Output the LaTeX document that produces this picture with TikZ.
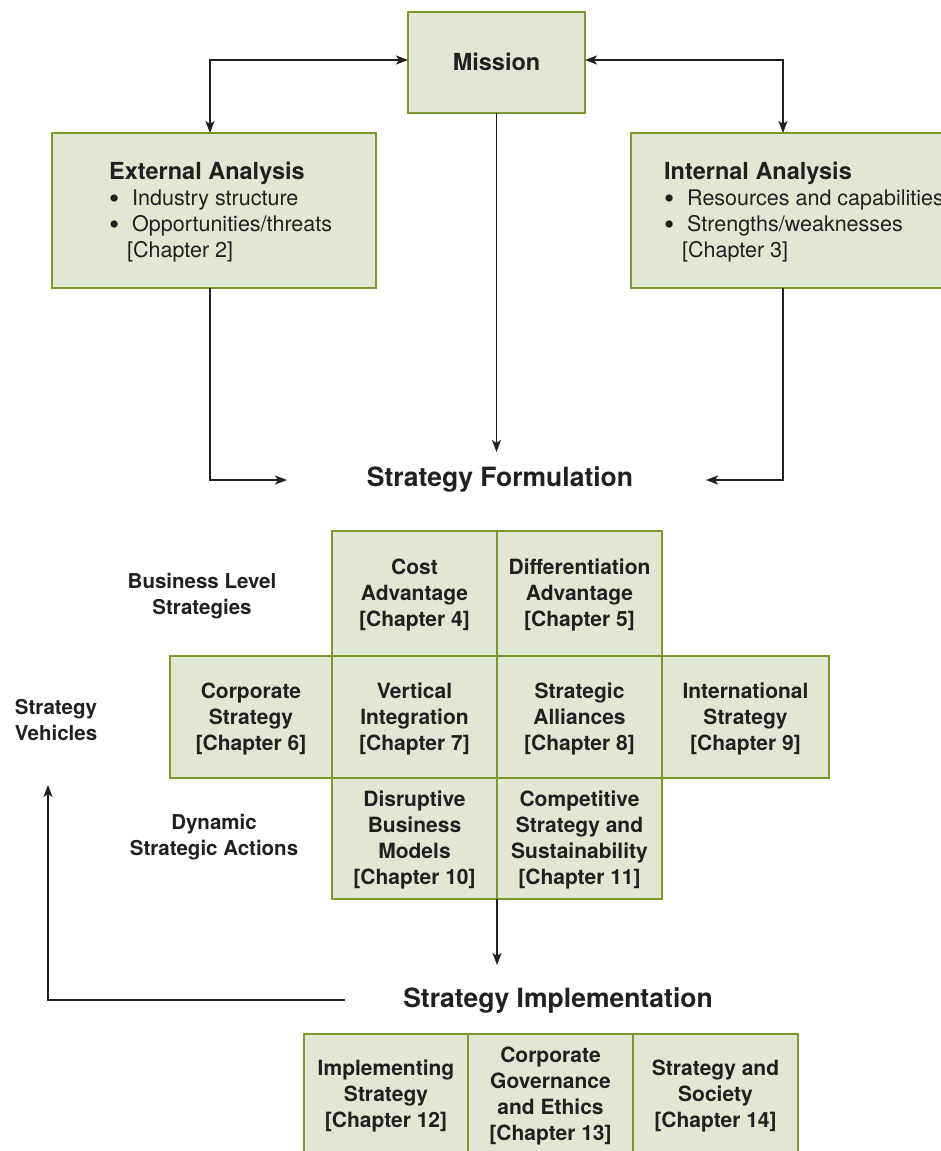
\documentclass[tikz,border=0pt]{standalone}
\usepackage{fontspec}
\setmainfont{TeX Gyre Heros}
\usetikzlibrary{arrows.meta}
\definecolor{boxfill}{HTML}{E2E7D3}
\definecolor{boxline}{HTML}{7A9A2C}
\definecolor{ink}{HTML}{231F20}
\newcommand{\bigbul}{\makebox[23pt][l]{\raisebox{-2.6pt}{\fontsize{29}{26}\selectfont\textbullet}}}
\newcommand{\tstrut}{\rule{0pt}{19.5pt}}
\tikzset{
  boxstyle/.style={draw=boxline, fill=boxfill, line width=2pt, rectangle, inner sep=0pt, outer sep=0pt},
  cell/.style={boxstyle, align=center, text=ink, font=\fontsize{21}{26}\selectfont\bfseries},
  lbl/.style={inner sep=0pt, align=center, text=ink, font=\fontsize{20.5}{26}\selectfont\bfseries},
  title/.style={inner sep=0pt, text=ink, font=\fontsize{26.5}{30}\selectfont\bfseries},
  boxtext/.style={inner sep=0pt, anchor=west, align=left, text=ink, font=\fontsize{21.5}{26}\selectfont},
  arr/.style={draw=ink, line width=1.8pt, -{Stealth[length=12pt,width=9pt,inset=3pt]}},
  dblarr/.style={draw=ink, line width=1.8pt, {Stealth[length=12pt,width=9pt,inset=3pt]}-{Stealth[length=12pt,width=9pt,inset=3pt]}},
}
\begin{document}
\begin{tikzpicture}[x=1pt,y=-1pt]
\clip (0,0) rectangle (941,1151);
\fill[white] (0,0) rectangle (941,1151);

% top boxes
\node[boxstyle, minimum width=177pt, minimum height=101pt, text=ink, font=\fontsize{23.5}{28}\selectfont\bfseries] (mission) at (496.5,62) {Mission};
\node[boxstyle, minimum width=324pt, minimum height=155pt] (ext) at (214,210.5) {};
\node[boxstyle, minimum width=324pt, minimum height=155pt] (int) at (793,210.5) {};

\node[boxtext] (extt) at (109,212.5) {{\fontsize{23.5}{26}\selectfont\bfseries External Analysis}\\
\bigbul Industry structure\\
\bigbul Opportunities/threats\\
\hspace*{18pt}[Chapter 2]};
\node[boxtext] (intt) at (664,212.5) {{\fontsize{23.5}{26}\selectfont\bfseries Internal Analysis}\\
\bigbul Resources and capabilities\\
\bigbul Strengths/weaknesses\\
\hspace*{18pt}[Chapter 3]};

% titles
\node[title] (sf) at (500,480) {Strategy Formulation};
\node[title] (si) at (558,1001) {Strategy Implementation};

% grid
\node[cell, minimum width=165pt, minimum height=125pt] (cost) at (414.5,593.5) {\tstrut Cost\\Advantage\\{}[Chapter 4]};
\node[cell, minimum width=165pt, minimum height=125pt] (diff) at (579.5,593.5) {\tstrut Differentiation\\Advantage\\{}[Chapter 5]};
\node[cell, minimum width=162pt, minimum height=122pt] (corp) at (251,717) {\tstrut Corporate\\Strategy\\{}[Chapter 6]};
\node[cell, minimum width=165pt, minimum height=122pt] (vert) at (414.5,717) {\tstrut Vertical\\Integration\\{}[Chapter 7]};
\node[cell, minimum width=165pt, minimum height=122pt] (alli) at (579.5,717) {\tstrut Strategic\\Alliances\\{}[Chapter 8]};
\node[cell, minimum width=167pt, minimum height=122pt] (intl) at (745.5,717) {\tstrut International\\Strategy\\{}[Chapter 9]};
\node[cell, minimum width=165pt, minimum height=121pt] (disr) at (414.5,838.5) {\tstrut Disruptive\\Business\\Models\\{}[Chapter 10]};
\node[cell, minimum width=165pt, minimum height=121pt] (comp) at (579.5,838.5) {\tstrut Competitive\\Strategy and\\Sustainability\\{}[Chapter 11]};

% side labels
\node[lbl] (bls) at (202,593.5) {\tstrut Business Level\\Strategies};
\node[lbl] (sv) at (56,718) {\tstrut Strategy\\Vehicles};
\node[lbl] (dsa) at (214,835) {\tstrut Dynamic\\Strategic Actions};

% bottom boxes
\node[cell, minimum width=164pt, minimum height=120pt] (impl) at (386,1094) {\tstrut Implementing\\Strategy\\{}[Chapter 12]};
\node[cell, minimum width=165pt, minimum height=120pt] (gov) at (550.5,1094) {\tstrut Corporate\\Governance\\and Ethics\\{}[Chapter 13]};
\node[cell, minimum width=165pt, minimum height=120pt] (soc) at (715.5,1094) {\tstrut Strategy and\\Society\\{}[Chapter 14]};

% connector ends
\coordinate (sfTop) at (496.5,452);
\coordinate (sfLeft) at (287,480);
\coordinate (sfRight) at (706,480);
\coordinate (siTop) at (497,965);
\coordinate (fbStart) at (345,1000);
\coordinate (fbEnd) at (48,785);

% connectors
\draw[dblarr] ([yshift=2pt]mission.west) -| ([xshift=-4pt]ext.north);
\draw[dblarr] ([yshift=2pt]mission.east) -| ([xshift=-10pt]int.north);
\draw[arr] (mission.south) -- (sfTop);
\draw[arr] ([xshift=-4pt]ext.south) |- (sfLeft);
\draw[arr] ([xshift=-10pt]int.south) |- (sfRight);
\draw[arr] (disr.south east) -- (siTop);
\draw[arr] (fbStart) -| (fbEnd);
\end{tikzpicture}
\end{document}
